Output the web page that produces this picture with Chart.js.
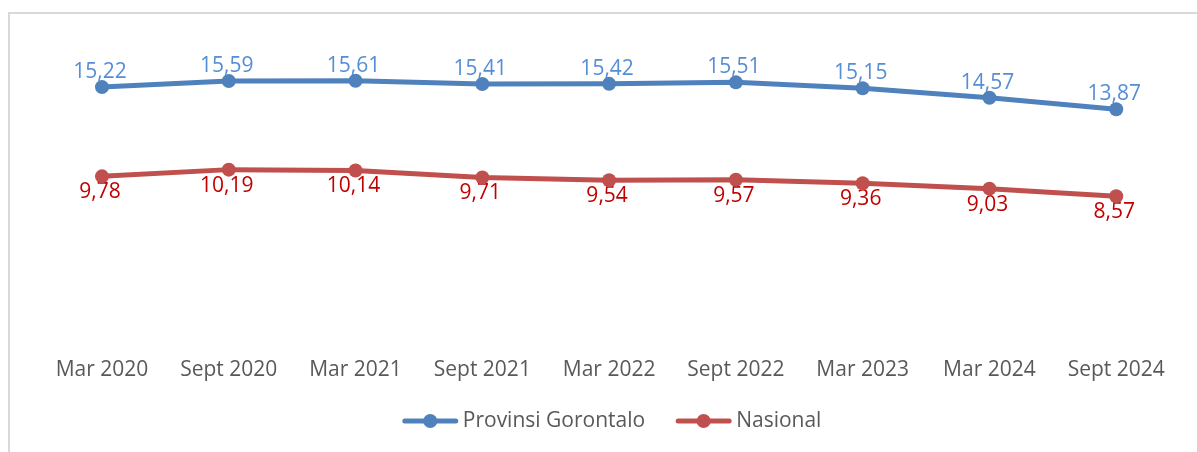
<!DOCTYPE html>
<html>
<head>
<meta charset="utf-8">
<script src="https://cdn.jsdelivr.net/npm/chart.js@4.4.0/dist/chart.umd.min.js"></script>
<style>
  html, body { margin: 0; padding: 0; background: #fff; }
  #wrap { position: relative; width: 1197px; height: 452px; overflow: hidden; }
  #frame { position: absolute; left: 8px; top: 12px; width: 1300px; height: 500px;
           border-left: 2px solid #d9d9d9; border-top: 2px solid #d9d9d9; }
  #myChart { position: absolute; left: 0; top: 0; }
</style>
</head>
<body>
<div id="wrap">
  <div id="frame"></div>
  <canvas id="myChart" width="1197" height="452"></canvas>
</div>
<script>
const periods = ['Mar 2020', 'Sept 2020', 'Mar 2021', 'Sept 2021', 'Mar 2022', 'Sept 2022', 'Mar 2023', 'Mar 2024', 'Sept 2024'];
const gorontalo = [15.22, 15.59, 15.61, 15.41, 15.42, 15.51, 15.15, 14.57, 13.87];
const nasional = [9.78, 10.19, 10.14, 9.71, 9.54, 9.57, 9.36, 9.03, 8.57];
const seriesNames = ['Provinsi Gorontalo', 'Nasional'];
const lineColors = ['#4f81bd', '#c0504d'];
const labelColors = ['#558ed5', '#c00000'];
const FONT = '"Open Sans", sans-serif';

// value labels: blue above the point, red below, decimal comma
const valueLabels = {
  id: 'valueLabels',
  beforeDatasetsDraw(chart) {
    const ctx = chart.ctx;
    ctx.save();
    ctx.font = '21px ' + FONT;
    ctx.textAlign = 'center';
    ctx.textBaseline = 'middle';
    chart.data.datasets.forEach((ds, i) => {
      ctx.fillStyle = labelColors[i];
      chart.getDatasetMeta(i).data.forEach((pt, j) => {
        const txt = ds.data[j].toFixed(2).replace('.', ',');
        ctx.fillText(txt, pt.x - 2, pt.y + (i === 0 ? -15 : 16));
      });
    });
    ctx.restore();
  }
};

// legend with a line + marker symbol, like the office chart
const lineLegend = {
  id: 'lineLegend',
  afterDraw(chart) {
    const ctx = chart.ctx;
    const symW = 55, gap = 5, spacing = 31, y = 421;
    ctx.save();
    ctx.font = '21px ' + FONT;
    ctx.textBaseline = 'middle';
    const widths = seriesNames.map(n => symW + gap + ctx.measureText(n).width);
    const total = widths.reduce((a, b) => a + b, 0) + spacing * (widths.length - 1);
    let x = (chart.chartArea.left + chart.chartArea.right) / 2 - total / 2 + 3;
    seriesNames.forEach((name, i) => {
      ctx.strokeStyle = lineColors[i];
      ctx.lineWidth = 5;
      ctx.lineCap = 'round';
      ctx.beginPath();
      ctx.moveTo(x + 2, y);
      ctx.lineTo(x + symW - 2, y);
      ctx.stroke();
      ctx.fillStyle = lineColors[i];
      ctx.beginPath();
      ctx.arc(x + symW / 2, y, 7, 0, Math.PI * 2);
      ctx.fill();
      ctx.fillStyle = '#595959';
      ctx.fillText(name, x + symW + gap, y);
      x += widths[i] + spacing;
    });
    ctx.restore();
  }
};

function series(i, values) {
  return {
    label: seriesNames[i],
    data: values,
    borderColor: lineColors[i],
    backgroundColor: lineColors[i],
    pointBackgroundColor: lineColors[i],
    pointBorderColor: lineColors[i],
    borderWidth: 5,
    pointRadius: 7,
    pointBorderWidth: 0,
    borderJoinStyle: 'round',
    borderCapStyle: 'round',
    tension: 0
  };
}

const ctx = document.getElementById('myChart').getContext('2d');

const myChart = new Chart(ctx, {
  type: 'line',
  data: {
    labels: periods,
    datasets: [series(0, gorontalo), series(1, nasional)]
  },
  options: {
    responsive: false,
    animation: false,
    layout: { padding: { top: 41.5, left: 38.6, right: 17.4, bottom: 56 } },
    plugins: {
      legend: { display: false },
      tooltip: { enabled: false }
    },
    scales: {
      x: {
        offset: true,
        grid: { display: false },
        border: { display: false },
        ticks: {
          font: { family: FONT, size: 21 },
          color: '#595959',
          padding: 13,
          maxRotation: 0,
          autoSkip: false
        }
      },
      y: { display: false, min: 0, max: 18 }
    }
  },
  plugins: [valueLabels, lineLegend]
});
</script>
</body>
</html>
